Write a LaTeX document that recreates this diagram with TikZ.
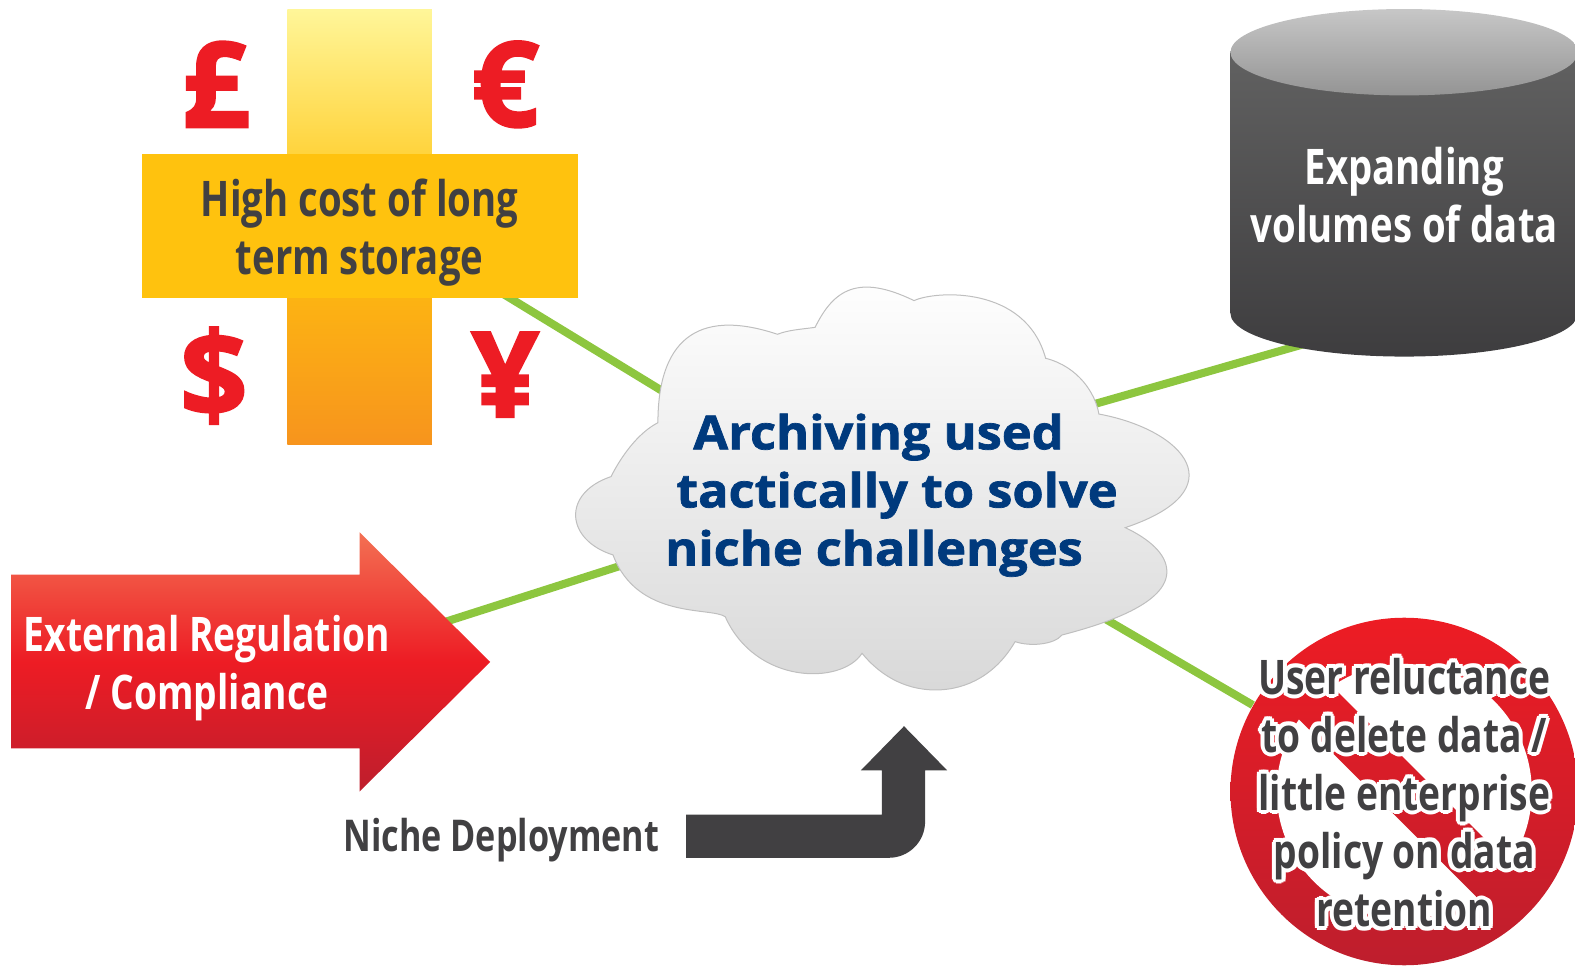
\documentclass[tikz,border=0pt]{standalone}
\usepackage{fontspec}
\usetikzlibrary{backgrounds}
\setmainfont{Open Sans}
\newfontfamily\condfont[FakeStretch=0.78]{Open Sans}
\newfontfamily\heavyfont[FakeStretch=1.075, FakeBold=1.5]{Open Sans}
\newfontfamily\moneyfont[FakeBold=2]{Open Sans}

\definecolor{linkgreen}{HTML}{8DC63F}
\definecolor{darktext}{HTML}{414042}
\definecolor{navytext}{HTML}{003A7D}
\definecolor{signred}{HTML}{ED1C24}
\definecolor{signdark}{HTML}{BE1E2D}
\definecolor{plusyellow}{HTML}{FFC20E}
\definecolor{pluspale}{HTML}{FFF699}
\definecolor{plusorange}{HTML}{F7941D}
\definecolor{arrowtop}{HTML}{F37053}

\tikzset{
	link/.style={draw=linkgreen, line width=0.08cm},
	condtext/.style={font=\condfont\bfseries\fontsize{13.9}{16.44}\selectfont, align=center, inner sep=0pt},
	signtext/.style={condtext, font=\condfont\bfseries\fontsize{13.5}{16.44}\selectfont},
	money/.style={text=signred, inner sep=0pt, font=\moneyfont\bfseries\fontsize{33.5}{35}\selectfont}
}

\begin{document}
\begin{tikzpicture}[x=0.01cm, y=-0.01cm]
	\useasboundingbox (0,0) rectangle (1568,962);

	% Cruz de costes
	\shade[top color=pluspale, bottom color=plusorange, middle color=plusyellow]
		(286,9) rectangle (430,443);
	\fill[plusyellow] (141,153) rectangle (575,297);
	\node[condtext, text=darktext, minimum width=4.34cm, minimum height=1.2cm] (cost) at (358,232) {High cost of long\\term storage};
	\node[money] (pound) at (215,84) {£};
	\node[money] (euro) at (503,84) {€};
	\node[money] (dollar) at (213,374) {\$};
	\node[money] (yen) at (503,373) {¥};

	% Cilindro
	\shade[top color=black!62, bottom color=darktext!95!black]
		(1225,52) -- (1225,312) arc[start angle=180, end angle=360, x radius=173, y radius=-43] -- (1571,52) -- cycle;
	\shade[top color=black!22, bottom color=black!42] (1398,52) ellipse[x radius=173, y radius=43];
	\node[condtext, text=white, minimum width=3cm, minimum height=2.6cm] (volumes) at (1398,194) {Expanding\\volumes of data};

	% Flecha roja
	\shade[top color=arrowtop, bottom color=signdark, middle color=signred]
		(11,572) -- (358,572) -- (358,530) -- (488,659) -- (358,788) -- (358,745) -- (11,745) -- cycle;
	\node[signtext, text=white, minimum width=3.7cm, minimum height=1.2cm] (regulation) at (206,665) {External Regulation\\/ Compliance};

	% Nube
	\shade[top color=white, bottom color=black!15, draw=black!25, line width=0.01cm]
		(910,299.3) .. controls (931,289.4) and (1021,283.7) .. (1041,356.7)
		.. controls (1073.5,365) and (1090.6,391.6) .. (1094,412.2)
		.. controls (1179.2,428) and (1232,487.8) .. (1120.3,525.3)
		.. controls (1142.6,535.9) and (1161.7,550.9) .. (1161.7,569.1)
		.. controls (1161.7,600.6) and (1102,620.6) .. (1057.3,632.2)
		.. controls (1049.2,642.1) and (1024.8,643.8) .. (1010.6,638.8)
		.. controls (992.3,670.3) and (963.8,686.9) .. (931.3,686.9)
		.. controls (898.8,686.9) and (874.4,670.3) .. (858.2,650.4)
		.. controls (837.9,681.9) and (752.5,681.9) .. (722,614)
		.. controls (707.8,604) and (634.7,617.2) .. (610.3,552.5)
		.. controls (563,537.6) and (559,491.1) .. (608.3,474.5)
		.. controls (618.4,454.6) and (634.7,431.4) .. (655,420.8)
		.. controls (655,341.8) and (691.6,305.3) .. (774,332.8)
		.. controls (785,328.5) and (797.2,327.9) .. (811.5,325.9)
		.. controls (829.7,288.7) and (854.1,272.1) .. (910,299.3) -- cycle;
	\node[text=navytext, font=\heavyfont\bfseries\fontsize{13.3}{16.44}\selectfont, align=left, inner sep=0pt, minimum width=4.5cm, minimum height=1.9cm] (cloud) at (887.5,493)
		{\hspace*{0.28cm}Archiving used\\\hspace*{0.11cm}tactically to solve\\niche challenges};

	% Senal de prohibido
	\shade[top color=signred, bottom color=signdark] (1398,788) circle[radius=173];
	\begin{scope}
		\clip (1398,788) circle[radius=127];
		\fill[white, rotate around={-45:(1398,788)}] (1200,590) rectangle (1600,764.5);
		\fill[white, rotate around={-45:(1398,788)}] (1200,811.5) rectangle (1600,1000);
	\end{scope}
	\foreach \a in {0,30,...,330}
		\node[signtext, text=white, shift={(\a:4)}] (halo\a) at (1398,789) {User reluctance\\to delete data /\\little enterprise\\policy on data\\retention};
	\node[signtext, text=darktext, minimum width=3cm, minimum height=2.6cm] (reluctance) at (1398,789) {User reluctance\\to delete data /\\little enterprise\\policy on data\\retention};

	% Flecha negra
	\fill[darktext] (683,811) -- (878,811) -- (878,767) -- (857,767) -- (900,723) -- (943,767) -- (921,767) -- (921,818)
		arc[start angle=0, end angle=90, x radius=36, y radius=36] -- (683,854) -- cycle;
	\node[condtext, text=darktext, font=\condfont\bfseries\fontsize{12.4}{16.44}\selectfont] (niche) at (499,836) {Niche Deployment};

	% Lineas
	\begin{pgfonlayer}{background}
		\draw[link] (cost.-23.2) -- (cloud.156.4);
		\draw[link] (volumes.254) -- (cloud.188.3);
		\draw[link] (regulation.9.67) -- (cloud.194.55);
		\draw[link] (reluctance.150) -- (cloud.-30.5);
	\end{pgfonlayer}
\end{tikzpicture}
\end{document}
